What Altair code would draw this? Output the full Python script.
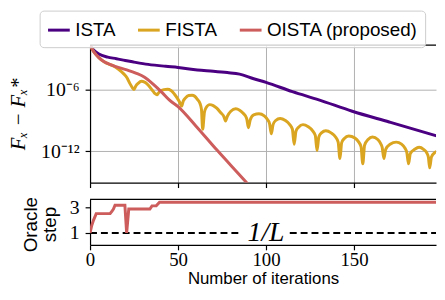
import altair as alt
import pandas as pd

# ---------------- data ----------------
series_names = ["ISTA", "FISTA", "OISTA (proposed)"]
series_colors = ["#4B0082", "#DAA520", "#CD5C5C"]

# log10(F_x - F_x^*) per iteration
ista_iter = [0, 2, 5, 10, 15, 20, 25, 33, 43, 50, 61, 70, 78, 85, 93, 100, 115, 130, 149, 170, 199]
ista_log = [-1.7, -2.15, -2.55, -2.85, -3.0, -3.18, -3.33, -3.55, -3.74, -3.85, -4.1, -4.22,
            -4.35, -4.5, -4.95, -5.3, -6.2, -7.0, -8.1, -9.15, -10.6]

oista_iter = [0, 2, 5, 8, 12, 17, 22, 26, 31, 36, 41, 45, 50, 60, 72, 88, 95]
oista_log = [-1.7, -2.3, -2.9, -3.3, -3.6, -3.9, -4.15, -4.4, -4.8, -5.5, -6.3, -7.0, -7.65,
             -9.5, -11.85, -14.85, -16.2]

fista_iter = [0, 2, 5, 8, 11, 13.3, 16, 19, 21, 22.6, 24, 25, 26, 27.3, 29.2, 31, 33, 35.8, 37,
              38, 39, 40.4, 42, 44, 46, 48, 50, 51, 52, 53, 54, 56, 58, 59.5, 61, 62.5, 63.3, 64,
              65, 66, 68, 70, 72, 74.3, 76, 77, 78, 80, 82.8, 85, 87, 89, 90, 91, 93, 96, 99,
              101, 102, 103, 104, 105.5, 108, 111, 113.5, 115, 116, 117, 118.5, 121, 124, 126.5,
              128, 129, 130, 131.5, 134, 137, 139.5, 141, 142, 143, 144.5, 147, 150.5, 152.5,
              154, 155, 156, 158, 160.5, 163.5, 165, 166, 167, 168, 170.5, 174, 177, 179, 180,
              181, 182, 184.5, 187, 189.5, 191.5, 192.3, 193, 194, 196, 199]
fista_log = [-1.7, -2.3, -2.9, -3.3, -3.55, -3.7, -4.0, -4.45, -4.85, -5.4, -5.8, -6.0, -5.65,
             -5.4, -5.2, -5.27, -5.55, -6.15, -6.4, -6.5, -6.3, -6.1, -6.0, -5.97, -6.08, -6.45,
             -6.95, -7.25, -7.6, -7.1, -6.85, -6.57, -6.55, -6.65, -6.95, -7.35, -7.9, -9.85,
             -8.2, -7.75, -7.46, -7.55, -7.8, -8.25, -8.6, -9.05, -8.6, -8.1, -7.87, -8.0, -8.3,
             -8.8, -9.7, -8.95, -8.45, -8.35, -8.55, -8.95, -9.3, -10.3, -9.4, -9.0, -8.8, -9.0,
             -9.4, -9.85, -11.3, -10.05, -9.65, -9.4, -9.6, -10.0, -10.45, -11.9, -10.6, -10.2,
             -10.0, -10.2, -10.6, -11.1, -12.7, -11.15, -10.75, -10.5, -10.7, -11.05, -11.55,
             -13.2, -11.4, -10.85, -10.6, -10.85, -11.2, -11.6, -12.7, -11.8, -11.3, -11.1,
             -11.3, -11.7, -12.1, -13.2, -12.2, -11.8, -11.6, -11.8, -12.2, -12.6, -13.6,
             -12.55, -12.1, -11.9]

# oracle step (bottom panel)
oracle_iter = [0, 1, 2, 3.5, 11.4, 12.5, 13.3, 14.2, 19.8, 20.8, 22, 34, 35.2, 37.6, 39.5, 199]
oracle_step = [1.0, 1.6, 2.0, 2.5, 2.5, 2.7, 2.85, 3.15, 3.15, 1.0, 2.85, 2.85, 3.1, 3.1, 3.38, 3.38]

inv_L_level = 1.0
inv_L_label = "1/L"
inv_L_label_iter = 100
inv_L_segments_start = [0, 113.5]
inv_L_segments_end = [86.5, 199]

x_ticks = [0, 50, 100, 150]
top_y_ticks = [-12, -6]
bottom_y_ticks = [1, 3]
bottom_title_lines = ["Oracle", "step"]

# ---------------- frames ----------------
rows = []
for name, xs, ys in [("ISTA", ista_iter, ista_log),
                     ("FISTA", fista_iter, fista_log),
                     ("OISTA (proposed)", oista_iter, oista_log)]:
    for x, y in zip(xs, ys):
        rows.append({"method": name, "iter": x, "logerr": y})
conv = pd.DataFrame(rows)

oracle_df = pd.DataFrame({"iter": oracle_iter, "step": oracle_step})
seg_df = pd.DataFrame({"start": inv_L_segments_start, "end": inv_L_segments_end,
                       "level": [inv_L_level] * len(inv_L_segments_start)})
lab_df = pd.DataFrame({"iter": [inv_L_label_iter], "level": [inv_L_level], "text": [inv_L_label]})
dummy = pd.DataFrame({"d": [0]})

W = 350
serif = "Liberation Serif"
sans = "Liberation Sans"
x_scale = alt.Scale(domain=[0, 196.6], nice=False, zero=False)

axis_style = dict(domainColor="black", domainWidth=1.2, tickColor="black", tickWidth=1.2,
                  tickSize=5, labelColor="black", titleColor="black", labelFlush=False,
                  gridColor="#b0b0b0", gridWidth=1)

# ---------------- top panel ----------------
lines = alt.Chart(conv).mark_line(strokeWidth=3, interpolate="monotone", clip=True).encode(
    x=alt.X("iter:Q", scale=x_scale,
            axis=alt.Axis(values=x_ticks, labels=False, title=None, grid=True, **axis_style)),
    y=alt.Y("logerr:Q", scale=alt.Scale(domain=[-15.03, -1.69], nice=False, zero=False),
            axis=alt.Axis(values=top_y_ticks,
                          labelExpr="datum.value == -6 ? '10⁻⁶' : '10⁻¹²'",
                          labelFont=serif, labelFontSize=20, labelPadding=6,
                          title="Fₓ − Fₓ*", titleFont=serif, titleFontStyle="italic",
                          titleFontSize=21, titleFontWeight="normal",
                          titleAngle=270, titleBaseline="top", titleAlign="center",
                          titleX=-83, titleY=69.5, grid=True, **axis_style)),
    color=alt.Color("method:N", sort=series_names,
                    scale=alt.Scale(domain=series_names, range=series_colors),
                    legend=alt.Legend(orient="none", legendX=-51, legendY=-35,
                                      direction="horizontal", title=None,
                                      symbolType="stroke", symbolSize=484,
                                      symbolStrokeWidth=3, labelFont=sans,
                                      labelFontSize=19, labelColor="black",
                                      labelLimit=300, labelOffset=4, columnPadding=16,
                                      padding=7, strokeColor="#cccccc",
                                      fillColor="rgba(255,255,255,0.8)", cornerRadius=4)),
)
top_spine = alt.Chart(dummy).mark_rule(color="black", strokeWidth=1.2).encode(
    x=alt.value(0), x2=alt.value(W), y=alt.value(0))
top = alt.layer(lines, top_spine).properties(width=W, height=139)

# ---------------- bottom panel ----------------
y_bottom = alt.Scale(domain=[0.08, 3.6], nice=False, zero=False)
step_line = alt.Chart(oracle_df).mark_line(strokeWidth=3, color="#CD5C5C", clip=True).encode(
    x=alt.X("iter:Q", scale=x_scale,
            axis=alt.Axis(values=x_ticks, labelFont=serif, labelFontSize=19, labelPadding=1,
                          title="Number of iterations", titleFont=sans, titleFontSize=17,
                          titleFontWeight="normal", titleBaseline="alphabetic",
                          titleY=39, grid=False, **axis_style)),
    y=alt.Y("step:Q", scale=y_bottom,
            axis=alt.Axis(values=bottom_y_ticks, labelFont=serif, labelFontSize=20,
                          labelPadding=6, title=None, grid=False, **axis_style)),
)
dash = alt.Chart(seg_df).mark_rule(color="black", strokeWidth=2, strokeDash=[7, 4],
                                   clip=True).encode(
    x=alt.X("start:Q", scale=x_scale), x2="end:Q", y=alt.Y("level:Q", scale=y_bottom))
lab = alt.Chart(lab_df).mark_text(font=serif, fontStyle="italic", fontSize=28,
                                  color="black", baseline="middle", align="center").encode(
    x=alt.X("iter:Q", scale=x_scale), y=alt.Y("level:Q", scale=y_bottom), text="text:N")
title_l1 = alt.Chart(dummy).mark_text(font=sans, fontSize=19, angle=270, baseline="alphabetic",
                                      align="center", color="black").encode(
    x=alt.value(-54), y=alt.value(25.5), text=alt.value(bottom_title_lines[0]))
title_l2 = alt.Chart(dummy).mark_text(font=sans, fontSize=19, angle=270, baseline="alphabetic",
                                      align="center", color="black").encode(
    x=alt.value(-34), y=alt.value(25.5), text=alt.value(bottom_title_lines[1]))
bottom_spine = alt.Chart(dummy).mark_rule(color="black", strokeWidth=1.2).encode(
    x=alt.value(0), x2=alt.value(W), y=alt.value(0))
bottom = alt.layer(dash, step_line, lab, title_l1, title_l2, bottom_spine).properties(
    width=W, height=46)

chart = alt.vconcat(top, bottom, spacing=17, bounds="flush").resolve_scale(
    color="independent").resolve_legend(color="independent").configure_view(
    stroke=None).properties(padding={"left": 0, "top": 0, "right": 0, "bottom": 0},
                            background="white")

chart.save("out.html", embed_options={"renderer": "svg", "actions": False})
